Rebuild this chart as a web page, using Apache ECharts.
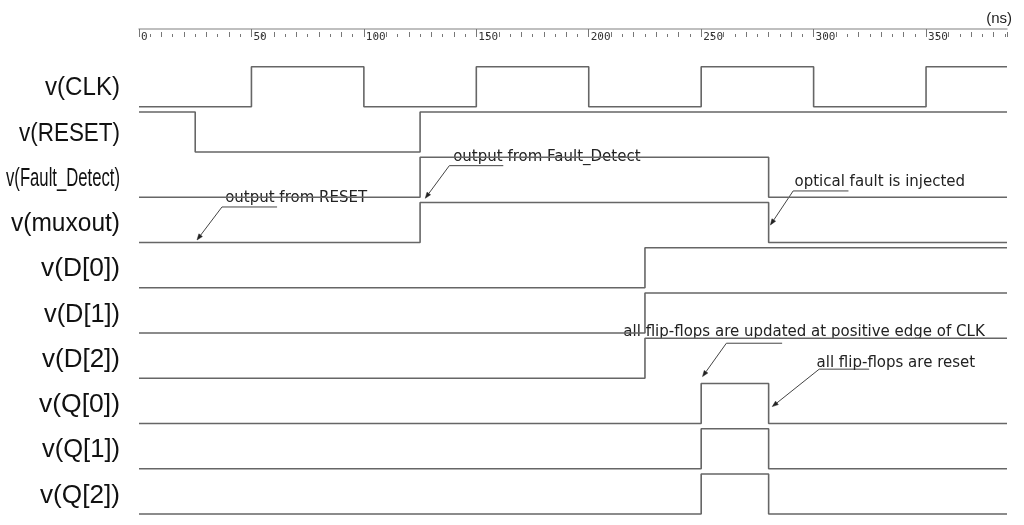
<!DOCTYPE html>
<html><head><meta charset="utf-8">
<script src="https://cdn.jsdelivr.net/npm/echarts@6/dist/echarts.min.js"></script>
<style>html,body{margin:0;padding:0;background:#fff}#c{width:1024px;height:525px}</style>
</head><body><div id="c"></div>
<script>
// ---- data (time in ns, logic level 0/1) ----
const signalNames = ['v(CLK)','v(RESET)','v(Fault_Detect)','v(muxout)','v(D[0])','v(D[1])','v(D[2])','v(Q[0])','v(Q[1])','v(Q[2])'];
const clk         = [[0,0],[50,1],[100,0],[150,1],[200,0],[250,1],[300,0],[350,1],[386,1]];
const reset       = [[0,1],[25,0],[125,1],[386,1]];
const faultDetect = [[0,0],[125,1],[280,0],[386,0]];
const muxout      = [[0,0],[125,1],[280,0],[386,0]];
const d0          = [[0,0],[225,1],[386,1]];
const d1          = [[0,0],[225,1],[386,1]];
const d2          = [[0,0],[225,1],[386,1]];
const q0          = [[0,0],[250,1],[280,0],[386,0]];
const q1          = [[0,0],[250,1],[280,0],[386,0]];
const q2          = [[0,0],[250,1],[280,0],[386,0]];
const timeUnit = '(ns)';
const annotationTexts = ['output from RESET','output from Fault_Detect','optical fault is injected','all flip-flops are updated at positive edge of CLK','all flip-flops are reset'];

// ---- layout (axis units: x = ns, y = row units) ----
const annotationLayout = [
  {tip:[25.8,3.945], elbow:[36.9,3.216], end:[61.4,3.216], label:[38.3,3.017]},
  {tip:[127.3,3.024], elbow:[138.0,2.303], end:[162.0,2.303], label:[139.7,2.104]},
  {tip:[280.8,3.614], elbow:[290.9,2.862], end:[315.5,2.862], label:[291.5,2.657]},
  {tip:[250.6,6.965], elbow:[261.2,6.227], end:[286.0,6.227], label:[215.4,5.971]},
  {tip:[281.6,7.628], elbow:[302.5,6.800], end:[324.7,6.800], label:[301.3,6.669]}
];
const labelWidths = [75,101,114,109,79,76,78,81,78,80];

const AMP = 40/45.26;
const signals = [clk, reset, faultDetect, muxout, d0, d1, d2, q0, q1, q2];
const rowY = (i, l) => i + 1 - l*AMP;

const chart = echarts.init(document.getElementById('c'), null, {renderer:'canvas'});
const series = signals.map((s,i)=>({
  type:'line', step:'end', symbol:'none', silent:true, animation:false,
  xAxisIndex:0, yAxisIndex:0,
  data: s.map(p=>[p[0], rowY(i,p[1])]),
  lineStyle:{color:'#666', width:1.6}
}));
const tickAxis = (interval, offset, len) => ({
  type:'value', position:'top', min:0, max:386, interval, offset,
  axisLine:{show:false, onZero:false}, splitLine:{show:false}, axisLabel:{show:false},
  axisTick:{show:true, inside:true, length:len, lineStyle:{color:'#777', width:1}}
});

chart.setOption({
  animation:false,
  backgroundColor:'#fff',
  grid:{left:139, right:17, top:29, bottom:2},
  xAxis:[
    {type:'value', position:'top', min:0, max:386, interval:50,
     axisLine:{show:true, onZero:false, lineStyle:{color:'#aaa', width:1.5}},
     axisTick:{show:true, inside:true, length:8, lineStyle:{color:'#777', width:1}},
     axisLabel:{inside:true, align:'left', margin:3, padding:[0,0,0,2], showMaxLabel:false,
       fontFamily:'DejaVu Sans Mono', fontSize:11, color:'#333'},
     splitLine:{show:false}},
    tickAxis(10, -3, 5),
    tickAxis(5, -5, 3)
  ],
  yAxis:{type:'value', inverse:true, min:-0.717, max:10.2, show:false, splitLine:{show:false}},
  series
});

function buildGraphics(){
  const g = [];
  const toPx = p => chart.convertToPixel({xAxisIndex:0, yAxisIndex:0}, p);
  const ctx = document.createElement('canvas').getContext('2d');
  const LF = '25px "Liberation Sans", Arial, sans-serif';
  ctx.font = LF;
  signalNames.forEach((name,i)=>{
    const y = toPx([0, rowY(i,0) - 0.40])[1];
    const w = ctx.measureText(name).width;
    g.push({type:'text', x:120, y:y, scaleX: labelWidths[i]/w, silent:true,
      style:{text:name, x:0, y:0, font:LF, fill:'#111', align:'right', textAlign:'right',
             verticalAlign:'middle', textVerticalAlign:'middle'}});
  });
  g.push({type:'text', x:1012, y:19, silent:true,
    style:{text:timeUnit, x:0, y:0, font:'15px "Liberation Sans", Arial, sans-serif', fill:'#222',
           align:'right', textAlign:'right', verticalAlign:'middle', textVerticalAlign:'middle'}});
  annotationLayout.forEach((a,k)=>{
    const tip = toPx(a.tip), el = toPx(a.elbow), en = toPx(a.end), lb = toPx(a.label);
    const dx = tip[0]-el[0], dy = tip[1]-el[1], len = Math.hypot(dx,dy);
    const ux = dx/len, uy = dy/len, nx = -uy, ny = ux;
    const AL = 6, AW = 2.2;
    const base = [tip[0]-ux*AL, tip[1]-uy*AL];
    g.push({type:'polyline', silent:true, shape:{points:[en, el, base]},
      style:{stroke:'#444', lineWidth:1, fill:null}});
    g.push({type:'polygon', silent:true,
      shape:{points:[tip,[base[0]+nx*AW, base[1]+ny*AW],[base[0]-nx*AW, base[1]-ny*AW]]},
      style:{fill:'#222', stroke:'#222', lineWidth:0.5}});
    g.push({type:'text', silent:true, x:lb[0], y:lb[1],
      style:{text:annotationTexts[k], x:0, y:0, font:'15px "DejaVu Sans", sans-serif', fill:'#222',
             align:'left', textAlign:'left', verticalAlign:'middle', textVerticalAlign:'middle'}});
  });
  chart.setOption({graphic:{elements:g}});
}
buildGraphics();
</script>
</body></html>
